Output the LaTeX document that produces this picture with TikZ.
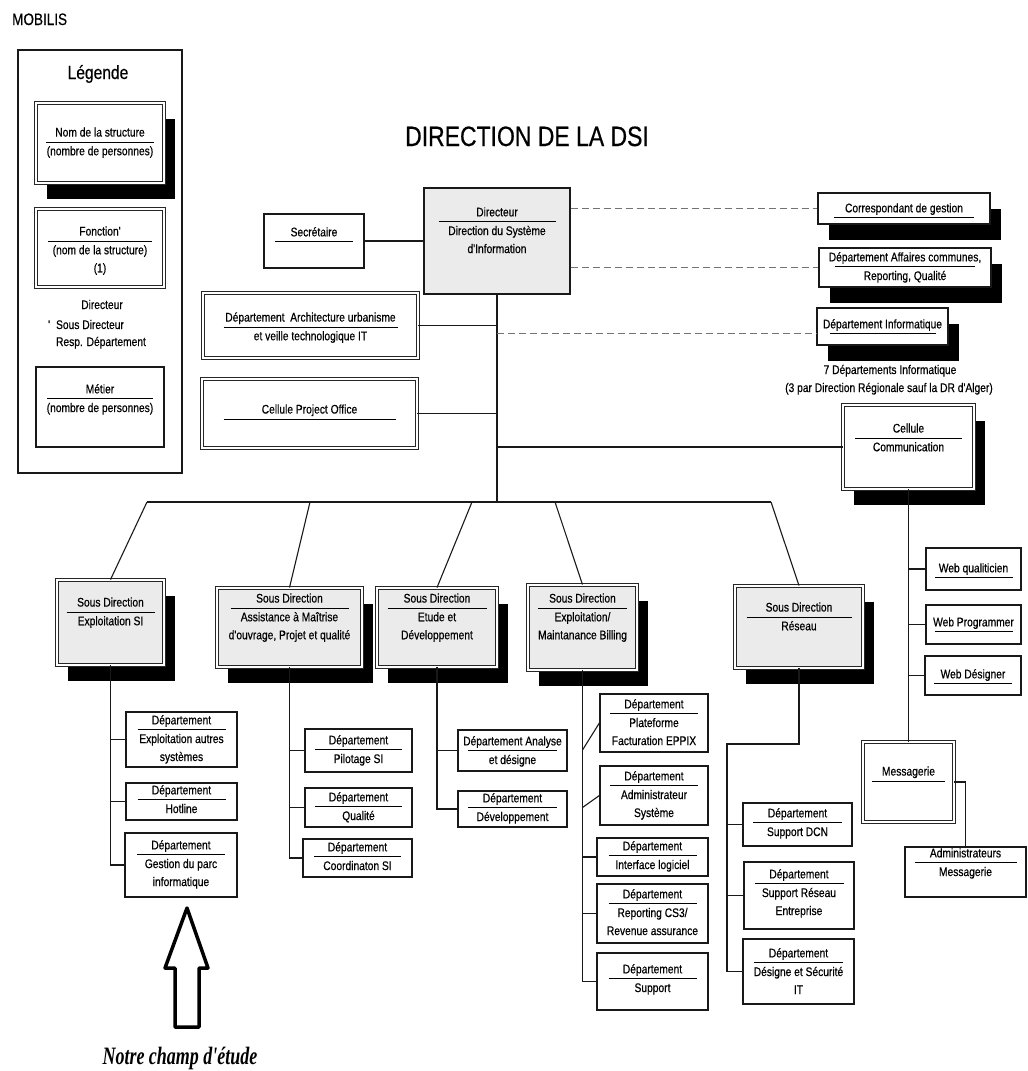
\documentclass[tikz,border=0pt]{standalone}
\usepackage{fontspec}
\newfontfamily\narrowfont[FakeStretch=0.82,FakeBold=0.5]{Liberation Sans}
\newfontfamily\champfont[FakeStretch=0.72]{Liberation Serif Bold Italic}
\usetikzlibrary{calc,shadows}

% box from its corners: name, style, x1, y1, x2, y2
\newcommand\orgbox[6]{\node[#2, minimum width={#5-#3}, minimum height={#6-#4}] (#1) at ({(#3+#5)/2},{(#4+#6)/2}) {};}
% box text: box, offset of the first line, half width of the rule, first line, further lines
\newcommand\orgtxt[5]{%
  \node[boxtxt, anchor=base] (#1-h) at ($(#1.north)+(0,#2+4)$) {#4};
  \draw[hrule] ($(#1.north)+(-#3,#2+9.5)$) -- ($(#1.north)+(#3,#2+9.5)$);
  \node[boxtxt, anchor=north, align=center] (#1-r) at ($(#1.north)+(0,#2+9.9)$) {\strut #5};}

\tikzset{
  boxline/.style={draw=black!90, line width=1.3pt, fill=white, inner sep=0pt},
  dbl/.style={draw=black!85, line width=0.9pt, double=white, double distance=1.6pt, fill=white, inner sep=0pt},
  graybox/.style={fill=black!8},
  shad/.style={drop shadow={shadow xshift=11pt, shadow yshift=-16pt, fill=black, opacity=1}},
  wire/.style={draw=black!90, line width=1.1pt},
  dashline/.style={draw=black!55, line width=1.5pt, dash pattern=on 7pt off 4pt},
  boxtxt/.style={font=\narrowfont\fontsize{12.5}{18}\selectfont, inner sep=0pt, text=black},
  hrule/.style={draw=black, line width=1.1pt},
}

\begin{document}
\begin{tikzpicture}[x=1pt,y=-1pt]
\fill[white] (0,0) rectangle (1028,1071);
\useasboundingbox (0,0) rectangle (1028,1071);

% headings
\node[font=\narrowfont\fontsize{16.5}{20}\selectfont, anchor=base west, inner sep=0pt] (mobilis) at (12,25) {MOBILIS};
\node[font=\narrowfont\fontsize{28}{32}\selectfont, anchor=base, inner sep=0pt] (title) at (527,146) {DIRECTION DE LA DSI};

% legend
\orgbox{lg}{boxline}{18}{50}{182}{473}
\node[font=\narrowfont\fontsize{19}{22}\selectfont, anchor=base, inner sep=0pt] (lg-title) at (98,79) {Légende};
\orgbox{lg1}{dbl,shad}{36}{103}{164}{183}
\orgtxt{lg1}{30}{54}{Nom de la structure}{(nombre de personnes)}
\orgbox{lg2}{dbl}{36}{209}{164}{287}
\orgtxt{lg2}{23}{52}{Fonction'}{(nom de la structure)\\(1)}
\node[boxtxt, anchor=base] (lg-n1) at (102,309) {Directeur};
\node[boxtxt, anchor=base] (lg-n2) at (90,329) {\llap{'\hspace{6pt}}Sous Directeur};
\node[boxtxt, anchor=base] (lg-n3) at (101,346) {Resp. Département};
\orgbox{lg3}{boxline}{36}{367}{164}{447}
\orgtxt{lg3}{23}{53}{Métier}{(nombre de personnes)}

% bus and branches to the sub-directions
\coordinate (b1) at (147,502);
\coordinate (b2) at (310,502);
\coordinate (b3) at (472,502);
\coordinate (b4) at (555,502);
\coordinate (b5) at (771,502);

% direction level
\orgbox{sec}{boxline}{264}{214}{364}{268}
\orgtxt{sec}{19}{39}{Secrétaire}{}
\orgbox{dir}{boxline,graybox}{424}{188}{570}{294}
\orgtxt{dir}{25}{58.5}{Directeur}{Direction du Système\\d'Information}
\orgbox{arch}{dbl}{203}{293}{418}{358}
\orgtxt{arch}{25}{87}{Département \ Architecture urbanisme}{et veille technologique IT}
\orgbox{pmo}{dbl}{202}{379}{417}{448}
\orgtxt{pmo}{31}{86}{Cellule Project Office}{}

\orgbox{corr}{boxline,shad}{818}{193}{990}{224}
\orgtxt{corr}{16}{70}{Correspondant de gestion}{}
\orgbox{aff}{boxline,shad}{819}{248}{991}{287}
\orgtxt{aff}{10}{70}{Département Affaires communes,}{Reporting, Qualité}
\orgbox{info}{boxline,shad}{817}{308}{948}{345}
\orgtxt{info}{17}{53}{Département Informatique}{}
\node[boxtxt, anchor=base] (info-n1) at (890,374) {7 Départements Informatique};
\node[boxtxt, anchor=base] (info-n2) at (889,392) {(3 par Direction Régionale sauf la DR d'Alger)};

\orgbox{com}{dbl,shad}{843}{405}{974}{489}
\orgtxt{com}{24}{53.5}{Cellule}{Communication}
\orgbox{wq}{boxline}{926}{548}{1021}{590}
\orgtxt{wq}{21}{39}{Web qualiticien}{}
\orgbox{wp}{boxline}{926}{605}{1021}{644}
\orgtxt{wp}{18}{39}{Web Programmer}{}
\orgbox{wd}{boxline}{925}{656}{1021}{695}
\orgtxt{wd}{19}{39}{Web Désigner}{}
\orgbox{msg}{dbl}{863}{742}{954}{822}
\orgtxt{msg}{30}{36.5}{Messagerie}{}
\orgbox{adm}{boxline}{905}{847}{1026}{897}
\orgtxt{adm}{7}{51}{Administrateurs}{Messagerie}

% connectors of the direction level
\draw[wire] (sec.east) -- (sec.east -| dir.west);
\draw[wire] (dir.south) -- (dir.south |- b1);
\draw[wire] (arch.east) -- (arch.east -| dir.south);
\draw[wire] (pmo.east) -- (pmo.east -| dir.south);
\draw[wire] (com.west) -- (com.west -| dir.south);
\draw[dashline] (dir.east |- corr.west) -- (corr.west);
\draw[dashline] (dir.east |- aff.west) -- (aff.west);
\coordinate (infoL) at ($(info.west)+(0,7)$);
\draw[dashline] (infoL -| dir.south) -- (infoL);
\draw[wire] (b1) -- (b5);

% communication cell
\draw[wire] (com.south) -- (msg.north);
\draw[wire] (wq.west) -- (wq.west -| com.south);
\draw[wire] (wp.west) -- (wp.west -| com.south);
\draw[wire] (wd.west) -- (wd.west -| com.south);
\draw[wire] (msg.east) -| (adm.north);

% sub-directions
\orgbox{sd1}{dbl,graybox,shad}{57}{580}{164}{665}
\orgbox{sd2}{dbl,graybox,shad}{217}{588}{362}{667}
\orgbox{sd3}{dbl,graybox,shad}{377}{588}{497}{667}
\orgbox{sd4}{dbl,graybox,shad}{528}{585}{637}{670}
\orgbox{sd5}{dbl,graybox,shad}{735}{586}{863}{668}
\draw[wire] (b1) -- (sd1.north);
\draw[wire] (b2) -- (sd2.north);
\draw[wire] (b3) -- (sd3.north);
\draw[wire] (b4) -- (sd4.north);
\draw[wire] (b5) -- (sd5.north);
\orgtxt{sd1}{23}{44}{Sous Direction}{Exploitation SI}
\orgtxt{sd2}{11}{59}{Sous Direction}{Assistance à Maîtrise\\d'ouvrage, Projet et qualité}
\orgtxt{sd3}{11}{49.5}{Sous Direction}{Etude et\\Développement}
\orgtxt{sd4}{14}{44.5}{Sous Direction}{Exploitation/\\Maintanance Billing}
\orgtxt{sd5}{22}{52.5}{Sous Direction}{Réseau}

% departments: Exploitation SI
\orgbox{d11}{boxline}{126}{712}{237}{767}
\orgtxt{d11}{9}{44}{Département}{Exploitation autres\\systèmes}
\orgbox{d12}{boxline}{126}{783}{237}{820}
\orgtxt{d12}{8}{44}{Département}{Hotline}
\orgbox{d13}{boxline}{125}{833}{237}{897}
\orgtxt{d13}{13}{44}{Département}{Gestion du parc\\informatique}
\draw[wire] (sd1.south) |- (d13.west);
\draw[wire] (d11.west) -- (d11.west -| sd1.south);
\draw[wire] (d12.west) -- (d12.west -| sd1.south);

% departments: Assistance a Maitrise d'ouvrage
\orgbox{d21}{boxline}{305}{729}{412}{772}
\orgtxt{d21}{12}{43.5}{Département}{Pilotage SI}
\orgbox{d22}{boxline}{305}{788}{412}{827}
\orgtxt{d22}{10}{43.5}{Département}{Qualité}
\orgbox{d23}{boxline}{303}{839}{412}{877}
\orgtxt{d23}{9}{43.5}{Département}{Coordinaton SI}
\draw[wire] (sd2.south) |- (d23.west);
\draw[wire] (d21.west) -- (d21.west -| sd2.south);
\draw[wire] (d22.west) -- (d22.west -| sd2.south);

% departments: Etude et Developpement
\orgbox{d31}{boxline}{458}{730}{567}{771}
\orgtxt{d31}{12}{44.5}{Département Analyse}{et désigne}
\orgbox{d32}{boxline}{458}{791}{567}{827}
\orgtxt{d32}{8}{44.5}{Département}{Développement}
\draw[wire] (sd3.south) |- (d32.west);
\draw[wire] (d31.west) -- (d31.west -| sd3.south);

% departments: Exploitation / Maintenance Billing
\orgbox{d41}{boxline}{600}{694}{708}{752}
\orgtxt{d41}{11}{44}{Département}{Plateforme\\Facturation EPPIX}
\orgbox{d42}{boxline}{600}{766}{708}{825}
\orgtxt{d42}{11}{44}{Département}{Administrateur\\Système}
\orgbox{d43}{boxline}{597}{838}{708}{876}
\orgtxt{d43}{9}{44}{Département}{Interface logiciel}
\orgbox{d44}{boxline}{597}{884}{708}{943}
\orgtxt{d44}{11}{44}{Département}{Reporting CS3/\\Revenue assurance}
\orgbox{d45}{boxline}{597}{953}{708}{1010}
\orgtxt{d45}{17}{44}{Département}{Support}
\draw[wire] (sd4.south) |- (d45.west);
\draw[wire] (d41.west) -- ($(d41.west -| sd4.south)+(0,27)$);
\draw[wire] (d42.west) -- ($(d42.west -| sd4.south)+(0,12)$);
\draw[wire] (d43.west) -- (d43.west -| sd4.south);
\draw[wire] (d44.west) -- (d44.west -| sd4.south);

% departments: Reseau
\coordinate (rk) at (727,744);
\orgbox{d51}{boxline}{743}{803}{852}{846}
\orgtxt{d51}{11}{44.5}{Département}{Support DCN}
\orgbox{d52}{boxline}{744}{862}{854}{929}
\orgtxt{d52}{13}{44.5}{Département}{Support Réseau\\Entreprise}
\orgbox{d53}{boxline}{743}{939}{854}{1004}
\orgtxt{d53}{15}{44.5}{Département}{Désigne et Sécurité\\IT}
\draw[wire] (sd5.south) |- (rk) |- (d53.west);
\draw[wire] (d51.west) -- (d51.west -| rk);
\draw[wire] (d52.west) -- (d52.west -| rk);

% field of study marker
\draw[line width=3.5pt, line join=round, fill=white] (187,908) -- (208,968) -- (199,968) -- (199,1027) -- (175,1027) -- (175,968) -- (165,968) -- cycle;
\node[font=\champfont\fontsize{25}{28}\selectfont, inner sep=0pt] (champ) at (180,1058) {Notre champ d'étude};
\end{tikzpicture}
\end{document}
